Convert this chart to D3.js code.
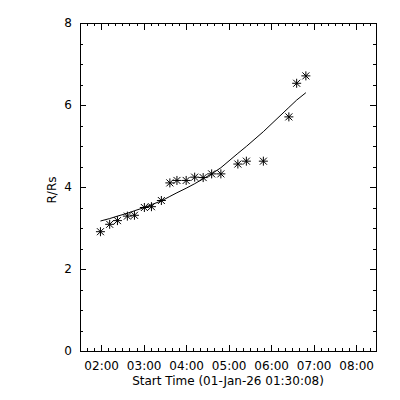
<!DOCTYPE html>
<html><head><meta charset="utf-8">
<script src="https://cdn.jsdelivr.net/npm/d3@7"></script>
<style>body{margin:0;background:#fff}svg{display:block}</style>
</head><body><svg id="c" width="400" height="400"></svg>
<script>
const times = ["01:59","02:12","02:23","02:37","02:47","03:01","03:11","03:25","03:37","03:47","04:00","04:12","04:24","04:36","04:49","05:13","05:25","05:49","06:25","06:36","06:49"];
const heights = [2.91,3.09,3.18,3.29,3.31,3.50,3.52,3.67,4.10,4.16,4.16,4.24,4.23,4.32,4.32,4.56,4.63,4.63,5.71,6.53,6.71];
const fitValues = [3.17,3.23,3.29,3.36,3.42,3.50,3.57,3.66,3.77,3.86,3.97,4.08,4.20,4.32,4.47,4.82,4.99,5.35,5.94,6.12,6.30];
const xDomain = ["01:30:08","08:28:00"];
const yTicks = [0,2,4,6,8];
const xTitle = "Start Time (01-Jan-26 01:30:08)";
const yTitle = "R/Rs";

const parse = s => { const p = s.split(":").map(Number); return new Date(Date.UTC(2026,0,1,p[0],p[1],p[2]||0)); };
const L=80, R=376, T=23, B=351;
const svg = d3.select("#c");
const x = d3.scaleUtc().domain(xDomain.map(parse)).range([L,R]);
const y = d3.scaleLinear().domain([0,8]).range([B,T]);
const font = "DejaVu Sans, sans-serif";
const fs = 12;

svg.append("rect").attr("x",L).attr("y",T).attr("width",R-L).attr("height",B-T)
  .attr("fill","none").attr("stroke","#000").attr("shape-rendering","crispEdges");

function styleAxis(g){
  g.select(".domain").remove();
  g.selectAll("line").attr("stroke","#000").attr("shape-rendering","crispEdges");
  g.selectAll("text").attr("font-family",font).attr("font-size",fs).attr("fill","#000");
}
const hours = d3.utcHour.every(1), mins = d3.utcMinute.every(10);
// bottom
svg.append("g").attr("transform",`translate(0,${B})`)
  .call(d3.axisTop(x).ticks(mins).tickSize(3).tickFormat("")).call(styleAxis);
svg.append("g").attr("transform",`translate(0,${B})`)
  .call(d3.axisTop(x).ticks(hours).tickSize(6).tickFormat("")).call(styleAxis);
svg.append("g").attr("transform",`translate(0,${B})`)
  .call(d3.axisBottom(x).ticks(hours).tickSize(0).tickPadding(10).tickFormat(d3.utcFormat("%H:%M"))).call(styleAxis);
// top
svg.append("g").attr("transform",`translate(0,${T})`)
  .call(d3.axisBottom(x).ticks(mins).tickSize(3).tickFormat("")).call(styleAxis);
svg.append("g").attr("transform",`translate(0,${T})`)
  .call(d3.axisBottom(x).ticks(hours).tickSize(7).tickFormat("")).call(styleAxis);
// left
const yMinor = d3.range(0,8.01,0.5);
svg.append("g").attr("transform",`translate(${L},0)`)
  .call(d3.axisRight(y).tickValues(yMinor).tickSize(3).tickFormat("")).call(styleAxis);
svg.append("g").attr("transform",`translate(${L},0)`)
  .call(d3.axisRight(y).tickValues(yTicks).tickSize(6).tickFormat("")).call(styleAxis);
svg.append("g").attr("transform",`translate(${L},0)`)
  .call(d3.axisLeft(y).tickValues(yTicks).tickSize(0).tickPadding(8).tickFormat(d3.format("d"))).call(styleAxis);
// right
svg.append("g").attr("transform",`translate(${R},0)`)
  .call(d3.axisLeft(y).tickValues(yMinor).tickSize(3).tickFormat("")).call(styleAxis);
svg.append("g").attr("transform",`translate(${R},0)`)
  .call(d3.axisLeft(y).tickValues(yTicks).tickSize(6).tickFormat("")).call(styleAxis);

svg.append("text").attr("x",(L+R)/2).attr("y",385).attr("text-anchor","middle")
  .attr("font-family",font).attr("font-size",fs).text(xTitle);
svg.append("text").attr("transform",`translate(56,${(T+B)/2+3}) rotate(-90)`).attr("text-anchor","middle")
  .attr("font-family",font).attr("font-size",fs).text(yTitle);

const pts = times.map((t,i)=>({t:parse(t),v:heights[i],f:fitValues[i]}));
svg.append("path").datum(pts).attr("fill","none").attr("stroke","#000").attr("stroke-width",1)
  .attr("d",d3.line().x(d=>x(d.t)).y(d=>y(d.f)));

const s = 4.5, dgl = 3.5;
const star = `M${-s},0H${s}M0,${-s}V${s}M${-dgl},${-dgl}L${dgl},${dgl}M${-dgl},${dgl}L${dgl},${-dgl}`;
svg.append("g").selectAll("path").data(pts).join("path")
  .attr("transform",d=>`translate(${x(d.t)},${y(d.v)})`)
  .attr("d",star).attr("stroke","#000").attr("stroke-width",1).attr("fill","none");
</script></body></html>
